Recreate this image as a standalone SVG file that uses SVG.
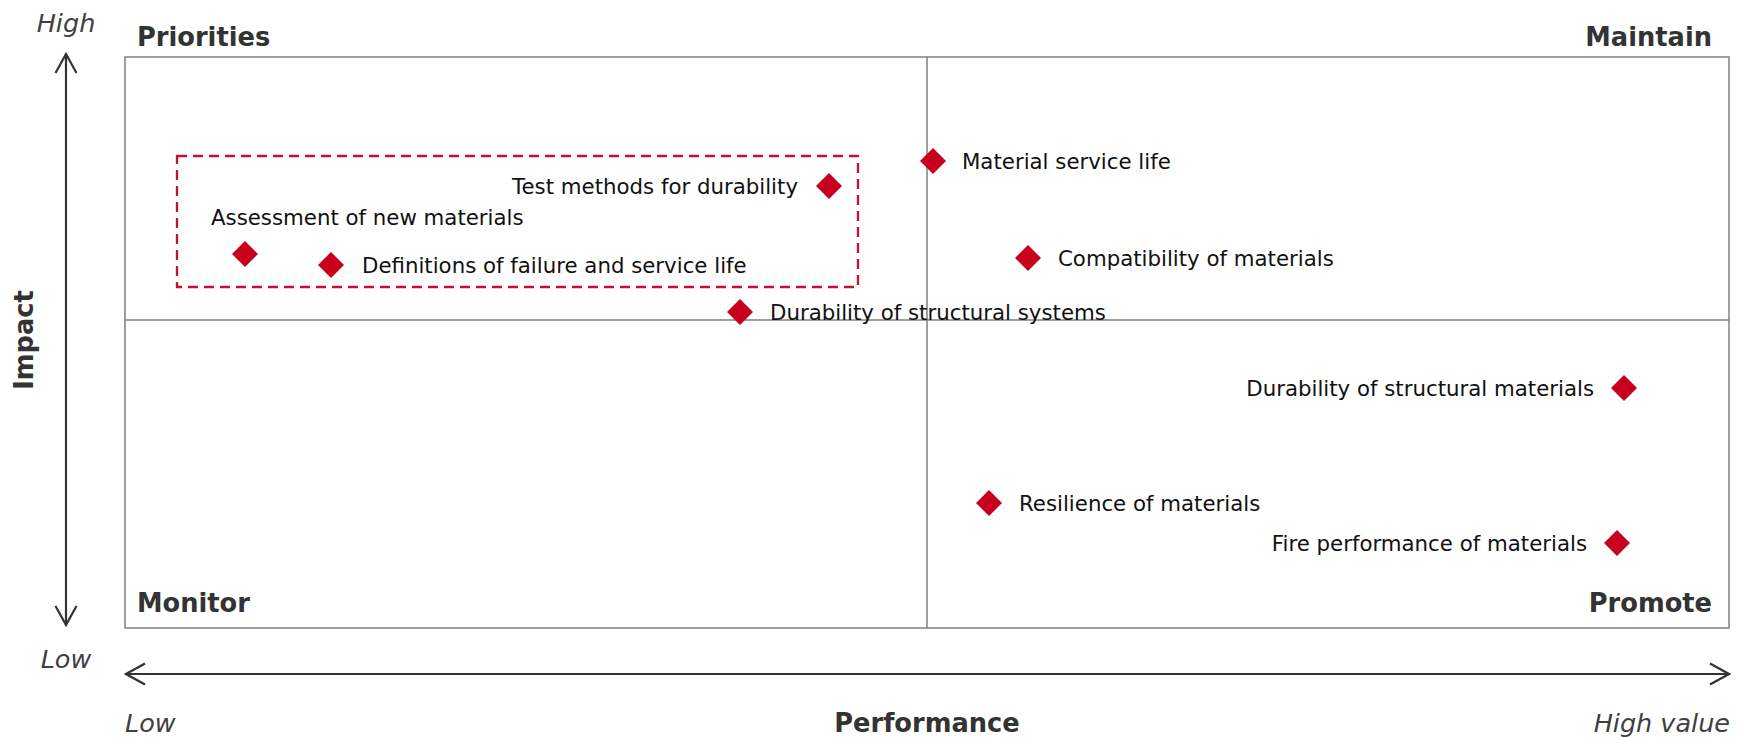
<svg xmlns="http://www.w3.org/2000/svg" width="1740" height="738" viewBox="0 0 1740 738">
  <style>
    .frame { fill: none; stroke: #7f7f7f; stroke-width: 1.5; }
    .axis { fill: none; stroke: #333333; stroke-width: 2.2; }
    .quad { font-family: "DejaVu Sans", Verdana, sans-serif; font-weight: bold; font-size: 25.7px; fill: #333333; }
    .ital { font-family: "DejaVu Sans", Verdana, sans-serif; font-style: italic; font-size: 25.5px; fill: #404040; }
    .lbl { font-family: "DejaVu Sans", Verdana, sans-serif; font-size: 21.3px; fill: #111111; }
    .dia { fill: #c8001e; }
    .focus { fill: none; stroke: #c8102e; stroke-width: 2.3; stroke-dasharray: 10 6; }
  </style>
  <defs>
    <marker id="chev" viewBox="-20 -12 22 24" markerWidth="22" markerHeight="24" refX="0" refY="0" orient="auto-start-reverse" markerUnits="userSpaceOnUse">
      <path d="M-19,-10.5 L0,0 L-19,10.5" fill="none" stroke="#333333" stroke-width="2.2"/>
    </marker>
  </defs>
  <rect width="1740" height="738" fill="#ffffff"/>

  <g id="quadrants">
    <rect class="frame" x="125" y="57" width="1604" height="571"/>
    <line class="frame" x1="927" y1="57" x2="927" y2="628"/>
    <line class="frame" x1="125" y1="320" x2="1729" y2="320"/>
    <text class="quad" x="137" y="46">Priorities</text>
    <text class="quad" x="1712" y="46" text-anchor="end">Maintain</text>
    <text class="quad" x="137" y="612">Monitor</text>
    <text class="quad" x="1712" y="612" text-anchor="end">Promote</text>
  </g>

  <g id="focus-box">
    <rect class="focus" x="177" y="156" width="681" height="131"/>
  </g>

  <g id="axes">
    <line class="axis" x1="66" y1="54" x2="66" y2="625" marker-start="url(#chev)" marker-end="url(#chev)"/>
    <line class="axis" x1="126" y1="674" x2="1729" y2="674" marker-start="url(#chev)" marker-end="url(#chev)"/>
    <text class="ital" x="66" y="32" text-anchor="middle">High</text>
    <text class="ital" x="66" y="668" text-anchor="middle">Low</text>
    <text class="ital" x="125" y="732">Low</text>
    <text class="ital" x="1730" y="732" text-anchor="end" font-size="26.3">High value</text>
    <text class="quad" x="927" y="732" text-anchor="middle" font-size="26.3">Performance</text>
    <text class="quad" transform="translate(33,340) rotate(-90)" text-anchor="middle" font-size="27">Impact</text>
  </g>

  <g id="n-test-methods">
    <path class="dia" d="M829,173 L842,186 L829,199 L816,186 Z"/>
    <text class="lbl" x="798" y="194" text-anchor="end">Test methods for durability</text>
  </g>
  <g id="n-assessment">
    <path class="dia" d="M245,241 L258,254 L245,267 L232,254 Z"/>
    <text class="lbl" x="211" y="225">Assessment of new materials</text>
  </g>
  <g id="n-definitions">
    <path class="dia" d="M331,252 L344,265 L331,278 L318,265 Z"/>
    <text class="lbl" x="362" y="273">Definitions of failure and service life</text>
  </g>
  <g id="n-durability-systems">
    <path class="dia" d="M740,299 L753,312 L740,325 L727,312 Z"/>
    <text class="lbl" x="770" y="320">Durability of structural systems</text>
  </g>
  <g id="n-material-service-life">
    <path class="dia" d="M933,148 L946,161 L933,174 L920,161 Z"/>
    <text class="lbl" x="962" y="169">Material service life</text>
  </g>
  <g id="n-compatibility">
    <path class="dia" d="M1028,245 L1041,258 L1028,271 L1015,258 Z"/>
    <text class="lbl" x="1058" y="266">Compatibility of materials</text>
  </g>
  <g id="n-durability-materials">
    <path class="dia" d="M1624,375 L1637,388 L1624,401 L1611,388 Z"/>
    <text class="lbl" x="1594" y="396" text-anchor="end">Durability of structural materials</text>
  </g>
  <g id="n-resilience">
    <path class="dia" d="M989,490 L1002,503 L989,516 L976,503 Z"/>
    <text class="lbl" x="1019" y="511">Resilience of materials</text>
  </g>
  <g id="n-fire">
    <path class="dia" d="M1617,530 L1630,543 L1617,556 L1604,543 Z"/>
    <text class="lbl" x="1587" y="551" text-anchor="end">Fire performance of materials</text>
  </g>
</svg>
